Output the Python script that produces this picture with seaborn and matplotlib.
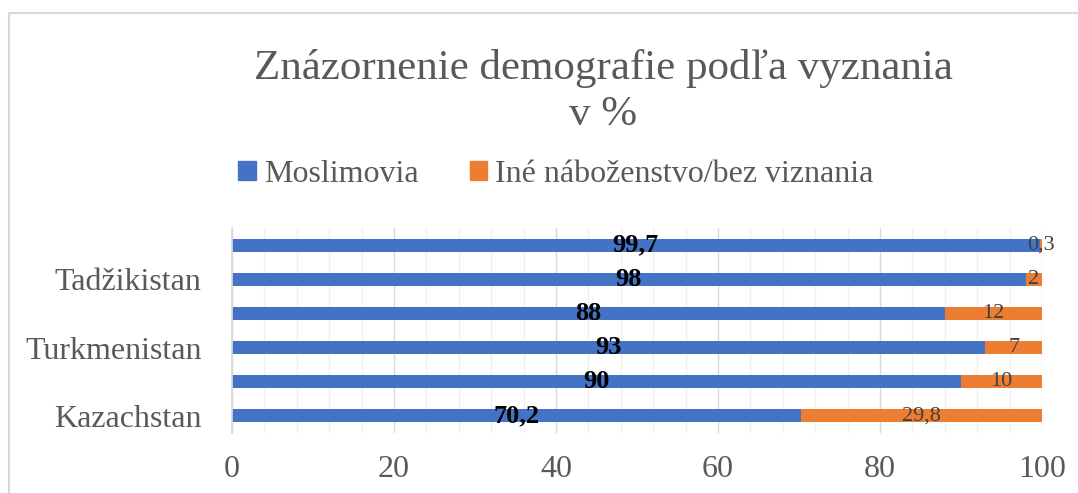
import matplotlib.pyplot as plt
import matplotlib.patches as mpatches
from matplotlib.ticker import MultipleLocator
import pandas as pd
import seaborn as sns

# data (top to bottom)
krajiny = ['Afganistan', 'Tadžikistan', 'Uzbekistan', 'Turkmenistan', 'Kirgizsko', 'Kazachstan']
moslimovia = [99.7, 98, 88, 93, 90, 70.2]
ine = [0.3, 2, 12, 7, 10, 29.8]
popisky_y = ['', 'Tadžikistan', '', 'Turkmenistan', '', 'Kazachstan']
popisky_m = ['99,7', '98', '88', '93', '90', '70,2']
popisky_i = ['0,3', '2', '12', '7', '10', '29,8']

df = pd.DataFrame({'Krajina': krajiny, 'Moslimovia': moslimovia, 'Ine': ine})
df['Spolu'] = df['Moslimovia'] + df['Ine']

sns.set_theme(style='white')
plt.rcParams['font.family'] = ['Liberation Serif', 'DejaVu Serif']

modra = '#4472C4'
oranzova = '#ED7D31'
seda = '#595959'

fig = plt.figure(figsize=(10.78, 4.93), dpi=100)
ax = fig.add_axes([232 / 1078, 1 - 433 / 493, 810 / 1078, 205 / 493])

# stacked: orange total first, blue over it
sns.barplot(data=df, x='Spolu', y='Krajina', color=oranzova, width=0.38, saturation=1, ax=ax, linewidth=0)
sns.barplot(data=df, x='Moslimovia', y='Krajina', color=modra, width=0.38, saturation=1, ax=ax, linewidth=0)

for i in range(len(krajiny)):
    ax.text(df['Moslimovia'][i] / 2, i, popisky_m[i], ha='center', va='center',
            fontsize=19, fontweight='bold', color='black')
    ax.text(df['Moslimovia'][i] + df['Ine'][i] / 2, i, popisky_i[i], ha='center', va='center',
            fontsize=16, color='#404040')

ax.set_xlim(0, 100)
ax.set_ylim(5.5, -0.5)
ax.xaxis.set_major_locator(MultipleLocator(20))
ax.xaxis.set_minor_locator(MultipleLocator(4))
ax.grid(axis='x', which='major', color='#D9D9D9', linewidth=1)
ax.grid(axis='x', which='minor', color='#F0F0F0', linewidth=1)
ax.set_axisbelow(True)
ax.set_yticks(range(len(krajiny)))
ax.set_yticklabels(popisky_y)
ax.tick_params(axis='both', which='both', length=0, colors=seda, labelsize=23)
ax.tick_params(axis='y', pad=22)
ax.tick_params(axis='x', pad=16)
ax.set_xlabel('')
ax.set_ylabel('')
for s in ['top', 'right', 'bottom']:
    ax.spines[s].set_visible(False)
ax.spines['left'].set_color('#D9D9D9')

fig.text(603 / 1078, 1 - 79 / 493, 'Znázornenie demografie podľa vyznania', ha='center',
         va='baseline', fontsize=31, color=seda)
fig.text(603 / 1078, 1 - 125 / 493, 'v %', ha='center', va='baseline', fontsize=31, color=seda)

handles = [mpatches.Patch(color=modra, label='Moslimovia'),
           mpatches.Patch(color=oranzova, label='Iné náboženstvo/bez viznania')]
fig.legend(handles=handles, loc='center', bbox_to_anchor=(556 / 1078, 1 - 174 / 493), ncol=2,
           frameon=False, fontsize=23, labelcolor=seda, handlelength=0.55, handleheight=0.55,
           handletextpad=0.25, columnspacing=1.6)

# border of the chart area
fig.patches.append(mpatches.Rectangle((9 / 1078, -0.1), 1.2, 1 - 13 / 493 + 0.1, transform=fig.transFigure,
                                      fill=False, edgecolor='#D9D9D9', linewidth=1.5))

fig.savefig('out.png', dpi=100)
